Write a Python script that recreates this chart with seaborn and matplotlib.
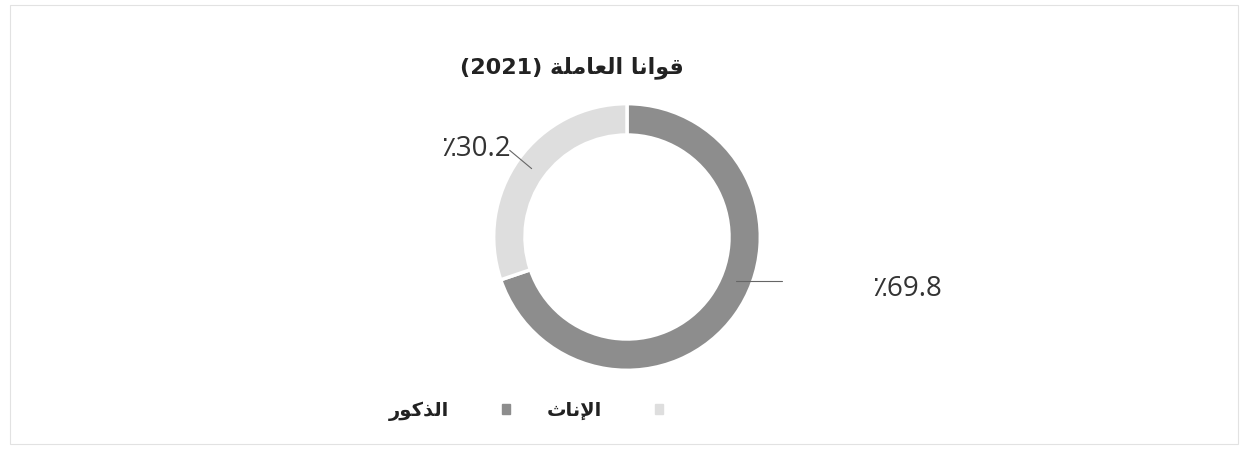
import numpy as np
import seaborn as sns
import matplotlib.pyplot as plt
from matplotlib.patches import Patch, Rectangle

# Arabic strings written with presentation forms in visual (left-to-right) order,
# since matplotlib does no shaping / bidi
title_words = ["(2021)",
               "\uFE94\uFEE0\uFEE3\uFE8E\uFECC\uFEDF\uFE8D",   # العاملة
               "\uFE8E\uFEE7\uFE8D\uFEEE\uFED7"]               # قوانا
categories = ["\uFEAD\uFEEE\uFEDB\uFEAC\uFEDF\uFE8D",          # الذكور
              "\uFE99\uFE8E\uFEE7\uFEF9\uFE8D"]                # الإناث
values = [69.8, 30.2]
labels = ["\u066A69.8", "\u066A30.2"]
colors = ["#8d8d8d", "#dedede"]

sns.set_theme(style="white")
plt.rcParams['font.family'] = ['DejaVu Sans']

W, H = 1241, 449
fig = plt.figure(figsize=(W / 100, H / 100), dpi=100)
fig.patch.set_facecolor("white")

# faint frame around the chart area
fig.patches.append(Rectangle((10 / W, 5 / H), 1228 / W, 439 / H, transform=fig.transFigure,
                             fill=False, edgecolor="#e2e2e2", linewidth=0.8))

cx, cy, size = 627, 237, 280
ax = fig.add_axes([(cx - size / 2) / W, (H - cy - size / 2) / H, size / W, size / H])
wedges, _ = ax.pie(values, colors=colors, startangle=90, counterclock=False,
                   radius=1.0, wedgeprops=dict(width=0.235, edgecolor="white", linewidth=2.5))
ax.set_xlim(-1.05, 1.05)
ax.set_ylim(-1.05, 1.05)
ax.set_aspect("equal")
ax.axis("off")

lab_font = dict(family=['Open Sans', 'DejaVu Sans'], fontsize=20, color="#333333")

# male label: leader to the right
a = np.deg2rad(-22)
x0, y0 = 0.88 * np.cos(a), 0.88 * np.sin(a)
ax.plot([x0, 1.16], [y0, y0], color="#666666", lw=0.8, clip_on=False)
ax.text(1.84, y0 - 0.06, labels[0], ha="left", va="center", **lab_font)

# female label: leader from wedge middle up-left
w = wedges[1]
a = np.deg2rad((w.theta1 + w.theta2) / 2)
x0, y0 = 0.88 * np.cos(a), 0.88 * np.sin(a)
ax.plot([x0, -0.88], [y0, 0.65], color="#666666", lw=0.8, clip_on=False)
ax.text(-0.87, 0.66, labels[1], ha="right", va="center", **lab_font)

# title
fig.text(572 / W, 1 - 68 / H, " ".join(title_words), ha="center", va="center",
         fontsize=16, fontweight="bold", color="#222222")

handles = [Patch(facecolor=c, edgecolor=c) for c in colors]
fig.legend(handles, categories, loc="center", bbox_to_anchor=(526 / W, 1 - 411 / H),
           ncol=2, frameon=False, markerfirst=False, handlelength=0.42, handleheight=0.42,
           handletextpad=2.7, columnspacing=1.9,
           prop=dict(size=14, weight="bold"), labelcolor="#222222")

fig.savefig("out.png", dpi=100, facecolor="white")
